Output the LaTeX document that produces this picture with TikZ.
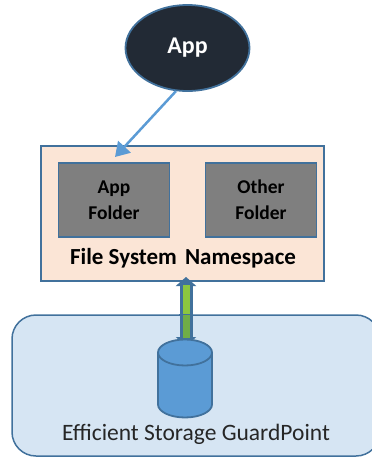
\documentclass[tikz,border=0pt]{standalone}
\usepackage{fontspec}
\setmainfont{Carlito}
\usetikzlibrary{shapes.geometric, arrows.meta, backgrounds}
\pgfdeclarelayer{link}
\pgfsetlayers{background,link,main}
\definecolor{edgeblue}{HTML}{41719C}
\definecolor{linkblue}{HTML}{5B9BD5}
\definecolor{appdark}{HTML}{222A35}
\definecolor{nsfill}{HTML}{FBE5D6}
\definecolor{folderfill}{HTML}{7F7F7F}
\definecolor{storefill}{HTML}{D6E5F3}
\definecolor{linkgreen}{HTML}{8CC63F}
\definecolor{linkgreenlow}{HTML}{70AD47}
\begin{document}
\begin{tikzpicture}[
            x=1pt, y=-1pt,
            app/.style={ellipse, draw=edgeblue, line width=1.8pt, fill=appdark, text=white, minimum width=124pt, minimum height=86pt, inner sep=0pt, font={\fontsize{24pt}{28pt}\selectfont\bfseries}},
            ns/.style={rectangle, draw=edgeblue, line width=1.8pt, fill=nsfill, minimum width=283pt, minimum height=135pt},
            folder/.style={rectangle, draw=edgeblue, line width=1.8pt, fill=folderfill, minimum width=111pt, minimum height=74pt, align=center, inner sep=0pt, font={\fontsize{19.5pt}{26pt}\selectfont\bfseries}},
            store/.style={rectangle, rounded corners=24pt, draw=edgeblue, line width=1.5pt, fill=storefill, minimum width=368pt, minimum height=141pt},
            disk/.style={cylinder, shape border rotate=90, shape aspect=1, draw=edgeblue, line width=1.8pt, fill=linkblue, minimum width=54pt, minimum height=78pt, inner xsep=13pt, inner ysep=0pt},
            lbl/.style={inner sep=0pt},
            shaft/.style={line width=7pt}
        ]
        \useasboundingbox (0,0) rectangle (372,458);
        \node[app] (app) at (187.5,48) {App};
        \node[folder] (appf) at (114,200) {App\\Folder};
        \node[folder] (otherf) at (261,200) {Other\\Folder};
        \node[lbl, font={\fontsize{23pt}{27pt}\selectfont\bfseries}] (nslbl) at (183,258) {File System\hspace{3pt} Namespace};
        \node[disk] (cyl) at (185,391) {};
        \node[lbl, font={\fontsize{23.5pt}{27pt}\selectfont}, text=black!85] (storelbl) at (196,434) {Efficient Storage GuardPoint};
        \begin{pgfonlayer}{background}
            \node[ns] (nsbox) at (182.5,213.5) {};
            \node[store] (storebox) at (196,385.5) {};
        \end{pgfonlayer}
        \coordinate (nsin) at (115,157);
        \coordinate (linktop) at (186,277);
        \coordinate (linkbot) at (186,346);
        \coordinate (linkmid) at (linktop |- storebox.north);
        \draw[-{Triangle[width=17pt,length=14pt]}, linkblue, line width=2.5pt] (app.255) -- (nsin);
        \begin{pgfonlayer}{link}
            % blue arrow first, green core on top of it
            \draw[{Triangle[width=20pt,length=9pt]}-{Triangle[width=20pt,length=9pt]}, edgeblue, line width=13pt] (linkbot) -- (linktop);
            \draw[linkgreen, shaft] (linkmid) -- ([yshift=-8pt]linktop);
            \draw[linkgreenlow, shaft] (linkmid) -- ([yshift=8pt]linkbot);
            \draw[edgeblue, line width=1.5pt] ([xshift=-7pt]linkmid) -- ([xshift=7pt]linkmid);
        \end{pgfonlayer}
    \end{tikzpicture}
\end{document}
